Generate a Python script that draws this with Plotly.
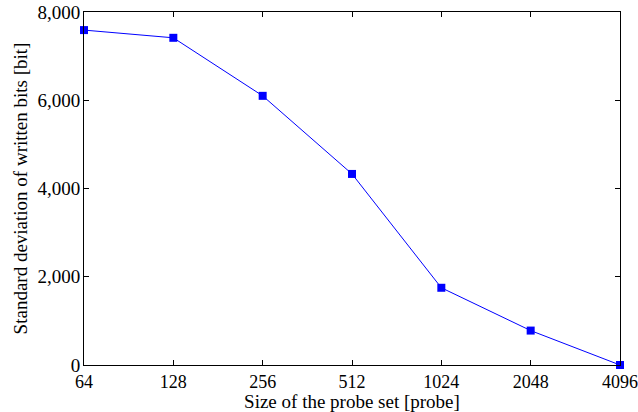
import math
import plotly.graph_objects as go

# Probe set sizes and the standard deviation of written bits
probe_sizes = [64, 128, 256, 512, 1024, 2048, 4096]
std_written_bits = [7590, 7415, 6100, 4330, 1750, 780, 0]

x_tick_vals = [64, 128, 256, 512, 1024, 2048, 4096]
x_tick_text = ["64", "128", "256", "512", "1024", "2048", "4096"]
y_tick_vals = [0, 2000, 4000, 6000, 8000]

font_family = "Liberation Serif, DejaVu Serif, serif"
x_tick_size = 18
y_tick_size = 19
title_size = 19

fig = go.Figure(
    go.Scatter(
        x=probe_sizes,
        y=std_written_bits,
        mode="lines+markers",
        line=dict(color="#0000ff", width=1),
        marker=dict(symbol="square", size=8, color="#0000ff"),
        cliponaxis=False,
        showlegend=False,
    )
)

axis_common = dict(
    showgrid=False,
    zeroline=False,
    showline=True,
    mirror="ticks",
    linecolor="black",
    linewidth=1,
    ticks="inside",
    ticklen=5,
    tickcolor="black",
    automargin=False,
)

# small padding so the end markers sit exactly on the frame and stay visible
eps = 1e-6
fig.update_xaxes(
    type="log",
    range=[math.log10(64) - eps, math.log10(4096) + eps],
    tickvals=x_tick_vals,
    ticktext=x_tick_text,
    ticklabelstandoff=0,
    tickfont=dict(family=font_family, size=x_tick_size, color="black"),
    title=dict(text="Size of the probe set [probe]",
               font=dict(family=font_family, size=title_size, color="black"),
               standoff=0),
    **axis_common,
)
fig.update_yaxes(
    range=[-0.01, 8000.01],
    tickvals=y_tick_vals,
    tickformat=",d",
    ticklabelstandoff=-1,
    tickfont=dict(family=font_family, size=y_tick_size, color="black"),
    title=dict(text="Standard deviation of written bits [bit]",
               font=dict(family=font_family, size=title_size, color="black"),
               standoff=4),
    **axis_common,
)

fig.update_layout(
    width=638,
    height=412,
    margin=dict(l=84, r=18, t=12, b=47, autoexpand=False),
    paper_bgcolor="white",
    plot_bgcolor="white",
    font=dict(family=font_family, color="black"),
)

fig.write_html("out.html")
